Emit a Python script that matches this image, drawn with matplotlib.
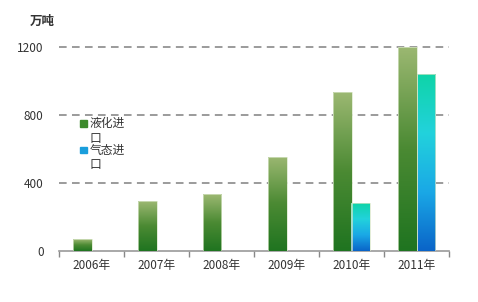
import numpy as np
import matplotlib.pyplot as plt
from matplotlib.colors import LinearSegmentedColormap
from matplotlib.patches import Rectangle

plt.rcParams['font.family'] = ['Noto Sans CJK SC', 'DejaVu Sans']

years = ['2006年', '2007年', '2008年', '2009年', '2010年', '2011年']
lng = [70, 292, 335, 553, 935, 1200]       # 液化进口
pipe = [0, 0, 0, 0, 280, 1040]             # 气态进口
yticks = [0, 400, 800, 1200]
unit = '万吨'
legend_labels = ['液化进\n口', '气态进\n口']

green_cmap = LinearSegmentedColormap.from_list('g', ['#1f7420', '#4b8a33', '#9cb872'])
blue_cmap = LinearSegmentedColormap.from_list('b', ['#0a64c8', '#1aa8e6', '#22d2dc', '#0fd4a8'])

fig = plt.figure(figsize=(4.78, 3.02), dpi=100)
ax = fig.add_axes([59 / 478, 1 - 251 / 302, 390 / 478, 204 / 302])

x = np.arange(len(years))
w = 0.29
bars_g = ax.bar(x - w / 2, lng, w, color='none', edgecolor='none', zorder=3)
bars_b = ax.bar(x + w / 2, pipe, w, color='none', edgecolor='none', zorder=3)

grad = np.linspace(0, 1, 256).reshape(-1, 1)
for bars, cmap in [(bars_g, green_cmap), (bars_b, blue_cmap)]:
    for r in bars:
        h = r.get_height()
        if h <= 0:
            continue
        x0 = r.get_x()
        im = ax.imshow(grad, cmap=cmap, origin='lower', aspect='auto',
                       extent=(x0, x0 + r.get_width(), 0, h), zorder=3)
        im.set_clip_path(r)
        ax.add_patch(Rectangle((x0, 0), r.get_width(), h, fill=False,
                               edgecolor='#d8e6c8', lw=0.5, zorder=4))

ax.set_xlim(-0.5, len(years) - 0.5)
ax.set_ylim(0, 1200)

ax.set_yticks(yticks)
ax.set_yticklabels([str(v) for v in yticks])
ax.set_xticks(x)
ax.set_xticklabels(years)
ax.set_xticks(np.arange(-0.5, len(years)), minor=True)
ax.tick_params(axis='x', which='major', length=0, pad=6, labelsize=8.5, labelcolor='#333333')
ax.tick_params(axis='x', which='minor', length=4, width=1, color='#888888', direction='out')
ax.tick_params(axis='y', length=0, pad=11, labelsize=8.5, labelcolor='#333333')

for v in yticks[1:]:
    ax.axhline(v, color='#808080', lw=1.1, ls=(0, (5, 3.5)), zorder=1, clip_on=False)

for s in ['top', 'right', 'left']:
    ax.spines[s].set_visible(False)
ax.spines['bottom'].set_color('#999999')
ax.spines['bottom'].set_linewidth(1.2)

ax.text(-0.075, 1.125, unit, transform=ax.transAxes, fontsize=9, fontweight='bold',
        color='#333333', ha='left', va='center')

# legend
legend_colors = ['#3d8a2c', '#1a9edc']
marker_y = [0.625, 0.497]
text_top = [0.655, 0.527]
for lab, c, my, ty in zip(legend_labels, legend_colors, marker_y, text_top):
    ax.add_patch(Rectangle((0.055, my - 0.015), 0.018, 0.03, transform=ax.transAxes,
                           color=c, clip_on=False, zorder=5))
    ax.text(0.078, ty, lab, transform=ax.transAxes, fontsize=8.5,
            color='#333333', ha='left', va='top', linespacing=1.12)

fig.savefig('out.png', dpi=100, facecolor='white')
